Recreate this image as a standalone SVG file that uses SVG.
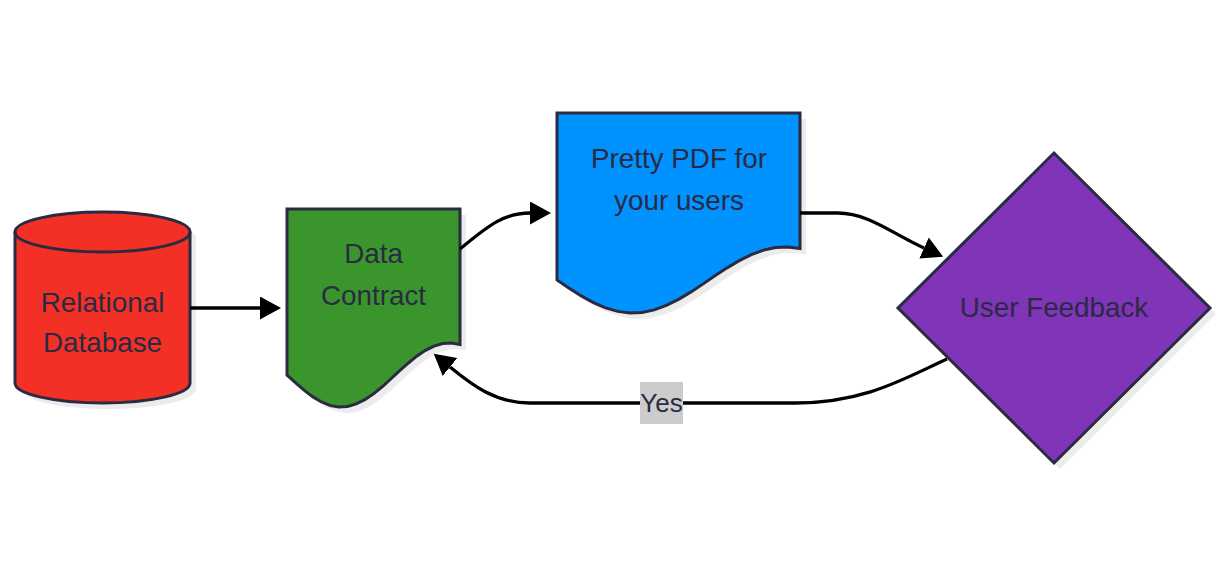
<svg xmlns="http://www.w3.org/2000/svg" width="1225" height="578" viewBox="0 0 1225 578">
  <style>
    .shape { stroke: #2b2a40; stroke-width: 3; stroke-linejoin: miter; }
    .shadow { fill: #ececec; stroke: none; }
    .label { font-family: "Liberation Sans", Arial, sans-serif; font-size: 27.8px; fill: #2b2a43; text-anchor: middle; }
    .edge { fill: none; stroke: #000; stroke-width: 3.3; }
  </style>
  <defs>
    <marker id="arrow" markerUnits="userSpaceOnUse" markerWidth="22" markerHeight="24" refX="0" refY="11.5" orient="auto">
      <path d="M0,0 L21,11.5 L0,23 Z" fill="#000"/>
    </marker>
    <path id="cylBody" d="M15,232 A87.5,20 0 0 1 190,232 L190,383 A87.5,20 0 0 1 15,383 Z"/>
    <path id="docDC" d="M287,209 L460,209 L460,344.56 L451.35,343.06 L442.7,343.57 L434.05,346.05 L425.4,350.34 L416.75,356.19 L408.1,363.22 L399.45,370.99 L390.8,379.01 L382.15,386.78 L373.5,393.81 L364.85,399.66 L356.2,403.95 L347.55,406.43 L338.9,406.94 L330.25,405.44 L321.6,402.02 L312.95,396.9 L304.3,390.42 L295.65,382.96 L287,375 Z"/>
    <path id="docPDF" d="M557,113 L800,113 L800,248.61 L787.85,247.07 L775.7,247.58 L763.55,250.14 L751.4,254.57 L739.25,260.6 L727.1,267.85 L714.95,275.87 L702.8,284.13 L690.65,292.15 L678.5,299.4 L666.35,305.43 L654.2,309.86 L642.05,312.42 L629.9,312.93 L617.75,311.39 L605.6,307.86 L593.45,302.59 L581.3,295.9 L569.15,288.21 L557,280 Z"/>
    <path id="diamond" d="M1054,153 L1210,308 L1054,463 L898,308 Z"/>
  </defs>

  <g id="node-db">
    <use href="#cylBody" class="shadow" transform="translate(6,6)"/>
    <use href="#cylBody" class="shape" fill="#f23026"/>
    <path class="shape" fill="none" d="M15,232 A87.5,20 0 0 0 190,232"/>
    <text class="label" x="102.5" y="312">Relational</text>
    <text class="label" x="102.5" y="352">Database</text>
  </g>

  <g id="node-contract">
    <use href="#docDC" class="shadow" transform="translate(6,6)"/>
    <use href="#docDC" class="shape" fill="#3a962c"/>
    <text class="label" x="373.5" y="263">Data</text>
    <text class="label" x="373.5" y="305">Contract</text>
  </g>

  <g id="node-pdf">
    <use href="#docPDF" class="shadow" transform="translate(6,6)"/>
    <use href="#docPDF" class="shape" fill="#0092ff"/>
    <text class="label" x="679" y="168">Pretty PDF for</text>
    <text class="label" x="679" y="210">your users</text>
  </g>

  <g id="node-feedback">
    <use href="#diamond" class="shadow" transform="translate(6,6)"/>
    <use href="#diamond" class="shape" fill="#8034b8"/>
    <text class="label" x="1054" y="317">User Feedback</text>
  </g>

  <g id="connectors">
    <path class="edge" marker-end="url(#arrow)" d="M190,308 L260,308"/>
    <path class="edge" marker-end="url(#arrow)" d="M460,249 C490,224 505,213 530,213"/>
    <path class="edge" marker-end="url(#arrow)" d="M800,213 L838,213 C868,213 893,234 924,248"/>
    <path class="edge" marker-end="url(#arrow)" d="M947,359 C905,378 865,403 795,403 L530,403 C495,403 472,385 450,367"/>
    <g id="label-yes">
      <rect x="640" y="382" width="43" height="42" fill="#cccccc"/>
      <text class="label" x="661.5" y="412" style="font-size:26px">Yes</text>
    </g>
  </g>
</svg>
